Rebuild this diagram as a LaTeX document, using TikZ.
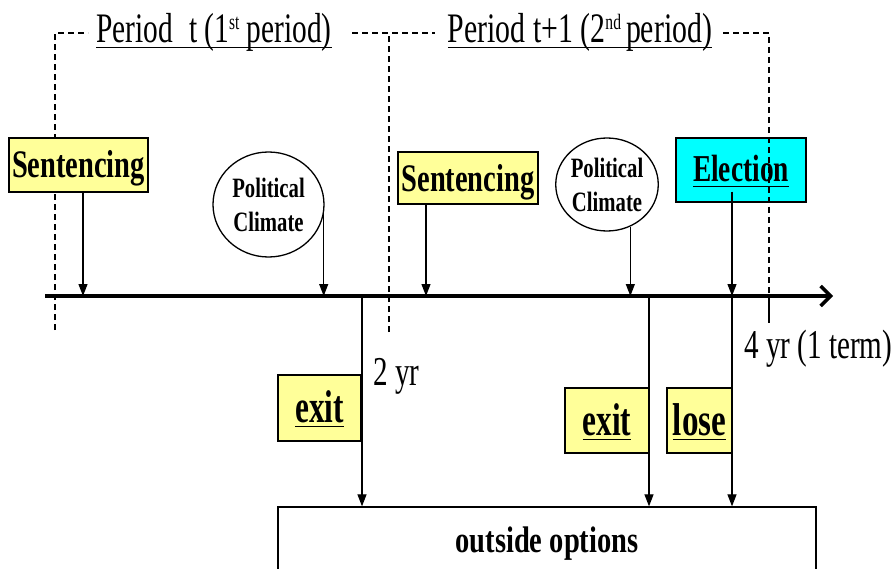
\documentclass[tikz,border=0pt]{standalone}
\usepackage{fontspec}
\setmainfont{Liberation Serif}
\usetikzlibrary{arrows.meta,shapes.geometric,calc}
\definecolor{boxyellow}{HTML}{FFFF99}
\definecolor{boxcyan}{HTML}{00FFFF}
\newcommand\sq[2]{\scalebox{#1}[1]{#2}}
\newcommand\ulbar[2]{\setbox0=\hbox{#2}\rlap{\rule[-#1]{\wd0}{1.4pt}}\box0}
\newcommand\bsz[1]{\fontsize{#1}{#1}\selectfont\bfseries}
\newcommand\nsz[1]{\fontsize{#1}{#1}\selectfont}
\newcommand\supx[1]{\raisebox{13pt}{\fontsize{22}{24}\selectfont #1}}
\begin{document}
\begin{tikzpicture}[x=1pt,y=-1pt,
  arr/.style={line width=1.2pt,-{Triangle[length=12pt,width=9pt]}},
  dsh/.style={line width=1.2pt,dash pattern=on 6pt off 4pt},
  ybox/.style={draw,line width=1.3pt,fill=boxyellow,inner sep=0pt,text depth=4pt},
  cbox/.style={draw,line width=1.3pt,fill=boxcyan,inner sep=0pt,text depth=4pt},
  ell/.style={draw,ellipse,line width=1.3pt,inner sep=0pt,align=center,
    font=\fontsize{28}{34}\selectfont\bfseries},
  lbl/.style={inner sep=0pt,anchor=base west}]
\clip (0,0) rectangle (896,569);
\fill[white] (0,0) rectangle (896,569);

% election box (drawn before the dashed line that crosses it)
\node[cbox,minimum width=130pt,minimum height=64pt,text height=28pt] (elec) at (741,170)
  {\bsz{38}\sq{0.72}{\ulbar{5pt}{Election}}};

% dashed period brackets
\draw[dsh] (55,330) -- (55,33) -- (88,33);
\draw[dsh] (352,33) -- (435,33);
\draw[dsh] (389,332) -- (389,33);
\draw[dsh] (723,33) -- (769,33) -- (769,296);
\draw[line width=1.2pt] (769,296) -- (769,323);

% period titles
\node[inner sep=0pt,anchor=base] (p1) at (214,43)
  {\nsz{42}\sq{0.70}{\ulbar{5pt}{Period\hspace{0.55em}t (1\supx{st} period)}}};
\node[inner sep=0pt,anchor=base] (p2) at (580,43)
  {\nsz{42}\sq{0.71}{\ulbar{5pt}{Period t+1 (2\supx{nd}\,period)}}};

% upper event boxes
\node[ybox,minimum width=139pt,minimum height=54pt,text height=30pt] (sen1) at (78.5,165)
  {\bsz{39}\sq{0.73}{Sentencing}};
\node[ybox,minimum width=140pt,minimum height=52pt,text height=31pt] (sen2) at (468,178)
  {\bsz{39}\sq{0.73}{Sentencing}};
\node[ell,minimum width=111pt,minimum height=105pt] (pc1) at (268.5,204.5)
  {\sq{0.74}{Political}\\\sq{0.74}{Climate}};
\node[ell,minimum width=102pt,minimum height=93pt] (pc2) at (607,184.5)
  {\sq{0.74}{Political}\\\sq{0.74}{Climate}};

% timeline
\coordinate (tl0) at (45,296);
\coordinate (tl1) at (833,296);
\draw[line width=3.5pt,-{Straight Barb[length=10pt,width=20pt]}] (tl0) -- (tl1);

% points on the timeline
\coordinate (s1) at (83,296);
\coordinate (s2) at (426,296);
\coordinate (e1) at (362,296);
\coordinate (e2) at (649,296);
\coordinate (e3) at (732,296);

% arrows onto the timeline
\draw[arr] (s1 |- sen1.south) -- (s1);
\draw[arr] (s2 |- sen2.south) -- (s2);
\draw[arr] (pc1.-10) -- (pc1.-10 |- tl0);
\draw[arr] (pc2.-61) -- (pc2.-61 |- tl0);
\draw[arr] ($(e3 |- elec.south)+(0,-11)$) -- (e3);

% lower boxes
\node[ybox,minimum width=83pt,minimum height=66pt,text height=32pt] (ex1) at (319.5,408)
  {\bsz{46}\sq{0.68}{\ulbar{5pt}{exit}}};
\node[ybox,minimum width=84pt,minimum height=65pt,text height=33pt] (ex2) at (607,420.5)
  {\bsz{46}\sq{0.68}{\ulbar{5pt}{exit}}};
\node[ybox,minimum width=65pt,minimum height=65pt,text height=33pt] (lose) at (699.5,420.5)
  {\bsz{46}\sq{0.72}{\ulbar{5pt}{lose}}};
\node[draw,line width=1.3pt,inner sep=0pt,minimum width=538pt,minimum height=68pt,
  text height=26pt,text depth=4pt] (out) at (547,541)
  {\bsz{37}\sq{0.77}{outside options}};

% arrows down to outside options
\draw[arr] (e1) -- (e1 |- out.north);
\draw[arr] (e2) -- (e2 |- out.north);
\draw[arr] (e3) -- (e3 |- out.north);

% time labels
\node[lbl] (two) at (373,385) {\nsz{41}\sq{0.71}{2 yr}};
\node[lbl] (four) at (744,358) {\nsz{41}\sq{0.71}{4 yr (1 term)}};
\end{tikzpicture}
\end{document}
